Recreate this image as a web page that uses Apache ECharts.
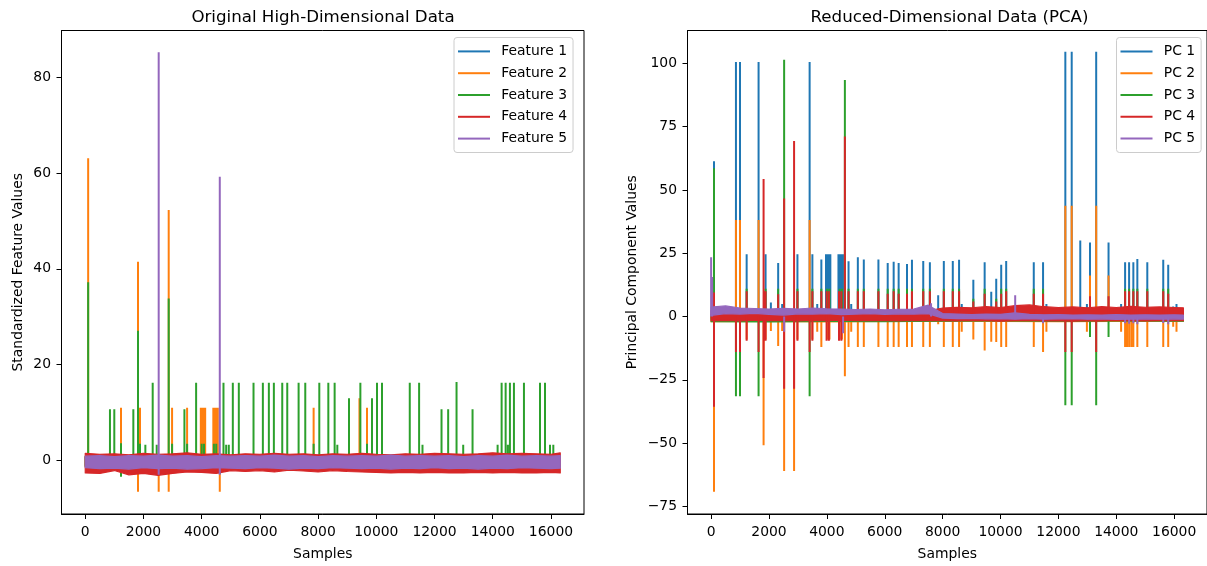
<!DOCTYPE html>
<html><head><meta charset="utf-8">
<script src="https://cdn.jsdelivr.net/npm/echarts@6/dist/echarts.min.js"></script>
<style>html,body{margin:0;padding:0;background:#fff}#chart{width:1207px;height:566px}</style>
</head><body><div id="chart"></div>
<script>
// ---------- tick labels / axes ----------
const xTicks = [0, 2000, 4000, 6000, 8000, 10000, 12000, 14000, 16000];
const leftYTicks = [0, 20, 40, 60, 80];
const rightYTicks = [-75, -50, -25, 0, 25, 50, 75, 100];
const leftNames = ['Feature 1', 'Feature 2', 'Feature 3', 'Feature 4', 'Feature 5'];
const rightNames = ['PC 1', 'PC 2', 'PC 3', 'PC 4', 'PC 5'];

// ---------- noise-band sample positions ----------
const bandX = [0,500,1000,1500,2000,2500,3000,3500,4000,4500,5000,5500,6000,6500,7000,7500,8000,8500,9000,9500,10000,10500,11000,11500,12000,12500,13000,13500,14000,14500,15000,15500,16000,16319];
const coarseX = [0, 2000, 4000, 6000, 8000, 10000, 12000, 14000, 16319];

// ---------- LEFT: original features ----------
const f1BandUp = [0.7, 0.8, 0.7, 0.8, 0.7, 0.8, 0.7, 0.8, 0.7];
const f1BandLo = [-1.0, -1.1, -1.0, -1.1, -1.0, -1.1, -1.0, -1.1, -1.0];
const f2BandUp = [0.8, 0.9, 0.8, 0.9, 0.8, 0.9, 0.8, 0.9, 0.8];
const f2BandLo = [-1.2, -1.3, -1.2, -1.3, -1.2, -1.3, -1.2, -1.3, -1.2];
const f3BandUp = [0.9, 1.0, 0.9, 1.0, 0.9, 1.0, 0.9, 1.0, 0.9];
const f3BandLo = [-1.3, -1.4, -1.3, -1.4, -1.3, -1.4, -1.3, -1.4, -1.3];
const f4BandUp = [1.5, 1.3, 1.4, 1.2, 1.5, 1.3, 1.4, 1.6, 1.3, 1.4, 1.2, 1.4, 1.3, 1.5, 1.3, 1.4, 1.2, 1.4, 1.3, 1.5, 1.3, 1.2, 1.4, 1.3, 1.5, 1.4, 1.3, 1.4, 1.6, 1.4, 1.5, 1.4, 1.3, 1.6];
const f4BandLo = [-2.6, -2.7, -2.1, -3.0, -2.7, -3.1, -2.7, -2.4, -2.5, -2.7, -2.1, -2.3, -2.1, -2.4, -2.0, -2.2, -2.4, -2.1, -2.3, -2.4, -2.5, -2.6, -2.5, -2.6, -2.5, -2.6, -2.6, -2.5, -2.6, -2.5, -2.6, -2.6, -2.5, -2.6];
const f5BandUp = [0.9, 1.0, 0.8, 1.0, 0.9, 1.1, 0.9, 1.0, 0.8, 1.0, 0.9, 1.0, 0.9, 1.1, 0.9, 1.0, 0.8, 1.0, 0.9, 1.0, 0.9, 1.1, 0.9, 1.0, 0.9, 1.0, 0.8, 1.0, 0.9, 1.1, 0.9, 1.0, 0.9, 1.0];
const f5BandLo = [-1.5, -1.7, -1.6, -1.8, -1.5, -1.7, -1.6, -1.8, -1.7, -1.5, -1.6, -1.7, -1.5, -1.6, -1.8, -1.6, -1.7, -1.5, -1.6, -1.7, -1.6, -1.8, -1.6, -1.7, -1.5, -1.7, -1.6, -1.8, -1.6, -1.7, -1.5, -1.6, -1.7, -1.6];

const f1Spikes = [];
const f2Spikes = [[100, 63.1], [1228, 11.0], [1813, 41.5], [1813, -6.5], [1882, 11.0], [2523, -6.5], [2867, 52.3], [2867, -6.5], [2983, 11.0], [3499, 11.0],
  [3970, 11.0], [4010, 11.0], [4050, 11.0], [4090, 11.0], [4120, 11.0],
  [4400, 11.0], [4440, 11.0], [4480, 11.0], [4520, 11.0], [4555, 11.0],
  [4622, -6.5], [7846, 11.0], [9420, 13.0], [9680, 11.0]];
const f3Spikes = [[100, 37.2], [849, 10.7], [998, 10.7], [1228, 3.6], [1228, -3.4], [1652, 10.7], [1813, 27.1], [1813, -2.8], [1882, 3.5], [2065, 3.3], [2317, 16.2], [2455, 3.3], [2523, -2.8], [2867, 33.8], [2867, -2.8], [2983, 3.5], [3407, 10.7], [3499, 3.5], [3809, 16.2],
  [4000, 3.5], [4080, 3.5], [4420, 3.5], [4500, 3.5], [4622, -2.8], [4749, 16.2], [4841, 3.3], [4932, 3.3], [5070, 16.2], [5276, 16.2], [5781, 16.2], [6102, 16.2], [6308, 16.2], [6480, 16.2], [6768, 16.2], [6940, 16.2], [7330, 16.2], [7559, 16.2], [7846, 3.5], [8041, 16.2], [8351, 16.2], [8568, 16.2], [8660, 3.3], [9061, 13.0], [9452, 16.2], [9680, 3.5], [9852, 13.0], [10024, 16.2], [10196, 16.2], [11149, 16.2], [11470, 16.2], [11586, 3.3], [12240, 10.7], [12468, 10.7], [12756, 16.4], [12985, 3.3], [13306, 10.7], [14167, 3.3], [14305, 16.2], [14443, 16.2], [14520, 3.3], [14590, 16.2], [14728, 16.2], [15072, 16.2], [15623, 16.2], [15795, 16.2], [15967, 3.3], [16081, 3.3]];
const f4Spikes = [];
const f5Spikes = [[2523, 85.2], [2523, -3.0], [4622, 59.2], [4622, -3.0]];

// ---------- RIGHT: principal components ----------
const p1BandUp = [1.0, 1.2, 1.1, 1.0, 1.2, 1.1, 1.0, 1.2, 1.1];
const p1BandLo = [-1.0, -1.1, -1.0, -1.1, -1.0, -1.1, -1.0, -1.1, -1.0];
const p2BandUp = [0.8, 0.9, 0.8, 0.9, 0.8, 0.9, 0.8, 0.9, 0.8];
const p2BandLo = [-2.0, -1.9, -2.1, -1.9, -1.8, -1.9, -2.0, -1.9, -1.8];
const p3BandUp = [0.6, 0.5, 0.6, 0.5, 0.6, 0.5, 0.6, 0.5, 0.6];
const p3BandLo = [-2.0, -2.1, -1.9, -2.0, -1.8, -1.7, -1.8, -1.7, -1.8];
const p4BandUp = [2.5, 2.2, 2.0, 2.3, 2.0, 2.4, 2.1, 2.2, 2.0, 2.3, 2.1, 2.2, 2.0, 2.2, 2.1, 2.3, 3.4, 3.7, 3.5, 3.9, 3.6, 4.3, 4.6, 3.9, 3.6, 3.8, 3.5, 3.9, 3.6, 4.0, 3.7, 3.8, 3.6, 3.5];
const p4BandLo = [-1.6, -1.5, -1.7, -1.4, -1.6, -1.5, -1.7, -1.5, -1.6, -1.4, -1.6, -1.5, -1.6, -1.7, -1.5, -1.6, -1.6, -1.7, -1.5, -1.6, -1.8, -1.6, -1.5, -1.7, -1.6, -1.8, -1.6, -1.7, -1.5, -1.6, -1.7, -1.6, -1.5, -1.6];
const p5BandUp = [3.8, 4.2, 3.4, 3.2, 3.0, 3.3, 3.0, 3.4, 3.1, 3.0, 2.8, 3.0, 2.7, 2.9, 3.0, 4.5, 1.2, 1.0, 0.8, 1.0, 0.9, 1.5, 0.9, 0.7, 0.8, 0.6, 0.7, 0.6, 0.8, 0.6, 0.7, 0.6, 0.7, 0.6];
const p5BandLo = [0.5, 1.2, 1.0, 1.3, 0.9, 0.6, 1.1, 1.0, 1.2, 0.8, 1.0, 1.2, 0.9, 1.1, 1.0, 1.2, -0.6, -0.8, -0.7, -0.9, -0.8, -1.0, -0.8, -1.0, -0.9, -0.8, -1.0, -0.9, -1.1, -1.0, -0.9, -1.0, -0.9, -1.0];

const p1Spikes = [[100, 61.4], [858, 100.6], [999, 100.6], [1228, 24.6], [1640, 100.6], [1882, 24.6], [2065, 5.6], [2317, 21.2], [2455, 5.0], [2983, 24.6], [3404, 100.6], [3499, 24.6], [3667, 5.0], [3809, 22.6],
  [3970, 24.6], [4010, 24.6], [4050, 24.6], [4090, 24.6], [4120, 24.6],
  [4400, 24.6], [4440, 24.6], [4480, 24.6], [4520, 24.6], [4555, 24.6],
  [4749, 21.9], [4841, 5.0], [5070, 23.4], [5276, 22.6], [5781, 22.6], [6102, 21.2], [6308, 21.7], [6480, 21.2], [6768, 20.8], [6940, 22.5], [7330, 22.0], [7559, 21.5], [7846, 8.4], [8041, 22.0], [8351, 22.0], [8568, 22.5], [8660, 5.0], [9061, 14.6], [9452, 21.5], [9680, 9.8], [9852, 14.9], [10024, 20.5], [10196, 22.0], [11149, 21.5], [11470, 21.5], [11586, 5.0], [12240, 104.6], [12460, 104.6], [12756, 30.1], [12985, 5.0], [13093, 29.3], [13306, 104.6], [13733, 29.3], [14167, 5.0], [14305, 21.5], [14443, 21.5], [14590, 21.5], [14728, 22.7], [15072, 21.5], [15623, 22.5], [15795, 20.5], [15967, 4.0], [16081, 5.0]];
const p2Spikes = [[100, -69.2], [858, 38.2], [999, 38.2], [1228, -9.0], [1640, 38.2], [1813, -50.8], [1882, -9.0], [2065, -5.7], [2317, -11.6], [2455, -5.7], [2523, -61.0], [2867, -61.0], [2983, -9.0], [3404, 38.2], [3499, -9.0], [3667, -6.0], [3809, -12.0],
  [4010, -9.0], [4090, -9.0], [4440, -9.0], [4520, -9.0],
  [4622, -23.6], [4749, -12.0], [4841, -6.0], [5070, -12.0], [5276, -12.0], [5781, -12.0], [6102, -12.0], [6308, -12.0], [6480, -12.0], [6768, -12.0], [6940, -12.0], [7330, -12.0], [7559, -12.0], [7846, -3.0], [8041, -12.0], [8351, -12.0], [8568, -12.0], [8660, -6.0], [9061, -9.0], [9452, -13.4], [9680, -9.9], [9852, -10.0], [10024, -12.0], [10196, -12.0], [11149, -12.0], [11470, -14.0], [11586, -6.0], [12240, 43.8], [12460, 43.8], [12985, -6.0], [13093, 16.2], [13306, 43.8], [13733, 16.2], [14167, -6.0], [14305, -12.0], [14370, -12.0], [14443, -12.0], [14520, -12.0], [14590, -12.0], [14728, -12.0], [15072, -12.0], [15623, -12.0], [15795, -12.0], [15967, -4.0], [16081, -6.0]];
const p3Spikes = [[100, 58.6], [858, -31.5], [999, -31.5], [1228, 11.0], [1640, -31.5], [1882, 11.0], [2317, 11.0], [2523, 101.4], [2983, 11.0], [3404, -31.5], [3499, 11.0], [3809, 11.0],
  [4010, 11.0], [4090, 11.0], [4440, 11.0], [4520, 11.0],
  [4622, 93.4], [4749, 11.0], [5070, 11.0], [5276, 11.0], [5781, 11.0], [6102, 11.0], [6308, 11.0], [6480, 11.0], [6768, 11.0], [6940, 11.0], [7330, 11.0], [7559, 11.0], [8041, 11.0], [8351, 11.0], [8568, 11.0], [9061, 7.0], [9452, 11.0], [9852, 7.0], [10024, 11.0], [10196, 11.0], [11149, 11.0], [11470, 11.0], [12240, -35.0], [12460, -35.0], [13093, -8.1], [13306, -35.0], [13733, -8.1], [14305, 11.0], [14443, 11.0], [14590, 11.0], [14728, 11.0], [15072, 11.0], [15623, 11.0], [15795, 11.0]];
const p4Spikes = [[100, 9.5], [100, -35.6], [858, -14.0], [999, -14.0], [1228, 10.0], [1228, -9.5], [1640, -14.0], [1813, 54.3], [1813, -24.3], [1882, 10.0], [1882, -9.5], [2317, 8.8], [2523, 46.6], [2523, -28.5], [2867, 69.4], [2867, -28.5], [2983, 10.0], [2983, -9.5], [3404, -14.0], [3499, 10.0], [3499, -9.5], [3809, 10.0],
  [3990, 10.0], [3990, -9.5], [4070, 10.0], [4070, -9.5], [4420, 10.0], [4420, -9.5], [4500, 10.0], [4500, -9.5],
  [4622, 71.1], [4749, 10.0], [5070, 10.0], [5276, 10.0], [5781, 10.0], [6102, 9.0], [6308, 10.0], [6480, 9.0], [6768, 9.0], [6940, 10.0], [7330, 10.0], [7559, 10.0], [8041, 10.0], [8351, 10.0], [8568, 10.0], [9061, 6.0], [9452, 9.0], [9852, 6.0], [10024, 9.0], [10196, 10.0], [11149, 9.0], [11470, 9.0], [12240, -14.0], [12460, -14.0], [13093, 8.0], [13306, -14.0], [13733, 8.0], [14305, 10.0], [14443, 10.0], [14590, 10.0], [14728, 10.0], [15072, 10.0], [15623, 10.0], [15795, 9.0]];
const p5Spikes = [[0, 23.4], [35, 15.6], [2523, -6.0], [4560, -6.6], [7600, 5.3], [10507, 8.4], [11470, -2.6], [14305, -2.6], [14443, -2.8], [14590, -2.6], [14728, -3.0], [15623, -2.5], [15795, -3.0]];

// ---------- build ----------
const COLORS = ['#1f77b4', '#ff7f0e', '#2ca02c', '#d62728', '#9467bd'];
const FONT = 'DejaVu Sans';

function band(name, gi, k, xs, up, lo) {
  const rows = xs.map((x, i) => [x, up[i], lo[i]]);
  return {
    name: name, type: 'custom', xAxisIndex: gi, yAxisIndex: gi, z: 10 + 2 * k,
    silent: true, animation: false, data: rows, encode: { x: 0, y: [1, 2] },
    renderItem: function (params, api) {
      if (params.dataIndex !== 0) return null;
      const pts = rows.map(r => api.coord([r[0], r[1]]));
      for (let i = rows.length - 1; i >= 0; i--) pts.push(api.coord([rows[i][0], rows[i][2]]));
      return { type: 'polygon', shape: { points: pts }, style: { fill: COLORS[k], stroke: COLORS[k], lineWidth: 1.2, lineJoin: 'round' } };
    }
  };
}
function spikes(name, gi, k, list) {
  const d = [];
  list.forEach(p => { d.push([p[0], 0], [p[0], p[1]], [p[0], null]); });
  return {
    name: name, type: 'line', xAxisIndex: gi, yAxisIndex: gi, z: 11 + 2 * k,
    data: d, symbol: 'none', showSymbol: false, silent: true, animation: false, connectNulls: false,
    lineStyle: { color: COLORS[k], width: 2 }, itemStyle: { color: COLORS[k] }
  };
}
const minus = v => String(v).replace('-', '\u2212');
const labelStyle = { color: '#000', fontFamily: FONT, fontSize: 13.9 };

function xAxis(gi) {
  return {
    type: 'value', gridIndex: gi, min: -816, max: 17135, position: 'bottom',
    name: 'Samples', nameLocation: 'middle', nameGap: 33, nameTextStyle: labelStyle,
    axisLine: { show: true, onZero: false, lineStyle: { color: '#000', width: 1 } },
    axisTick: { show: true, inside: false, customValues: xTicks, length: 5, lineStyle: { color: '#000', width: 1 } },
    axisLabel: Object.assign({ customValues: xTicks, margin: 11, formatter: minus }, labelStyle),
    splitLine: { show: false }
  };
}
function yAxis(gi, name, min, max, ticks, gap) {
  return {
    type: 'value', gridIndex: gi, min: min, max: max, position: 'left',
    name: name, nameLocation: 'middle', nameRotate: 90, nameGap: gap, nameTextStyle: labelStyle,
    axisLine: { show: true, onZero: false, lineStyle: { color: '#000', width: 1 } },
    axisTick: { show: true, inside: false, customValues: ticks, length: 5, lineStyle: { color: '#000', width: 1 } },
    axisLabel: Object.assign({ customValues: ticks, margin: 10.5, formatter: minus }, labelStyle),
    splitLine: { show: false }
  };
}
function legend(names, left) {
  return {
    orient: 'vertical', left: left, top: 37.5, itemGap: 0, itemWidth: 32, itemHeight: 2,
    padding: [3, 6, 3, 4],
    backgroundColor: 'rgba(255,255,255,0.8)', borderColor: '#cccccc', borderWidth: 1, borderRadius: 3,
    textStyle: { color: '#000', fontFamily: FONT, fontSize: 13.9, lineHeight: 21.8, padding: [0, 0, 0, 6.3] },
    data: names.map((n, k) => ({ name: n, icon: 'rect', itemStyle: { color: COLORS[k] } })),
    selectedMode: false
  };
}

const leftSpikes = [f1Spikes, f2Spikes, f3Spikes, f4Spikes, f5Spikes];
const leftBands = [[coarseX, f1BandUp, f1BandLo], [coarseX, f2BandUp, f2BandLo], [coarseX, f3BandUp, f3BandLo], [bandX, f4BandUp, f4BandLo], [bandX, f5BandUp, f5BandLo]];
const rightSpikes = [p1Spikes, p2Spikes, p3Spikes, p4Spikes, p5Spikes];
const rightBands = [[coarseX, p1BandUp, p1BandLo], [coarseX, p2BandUp, p2BandLo], [coarseX, p3BandUp, p3BandLo], [bandX, p4BandUp, p4BandLo], [bandX, p5BandUp, p5BandLo]];

const series = [];
for (let k = 0; k < 5; k++) {
  series.push(band(leftNames[k], 0, k, leftBands[k][0], leftBands[k][1], leftBands[k][2]));
  series.push(spikes(leftNames[k], 0, k, leftSpikes[k]));
}
for (let k = 0; k < 5; k++) {
  series.push(band(rightNames[k], 1, k, rightBands[k][0], rightBands[k][1], rightBands[k][2]));
  series.push(spikes(rightNames[k], 1, k, rightSpikes[k]));
}

const chart = echarts.init(document.getElementById('chart'), null, { renderer: 'canvas' });
chart.setOption({
  animation: false,
  backgroundColor: '#fff',
  title: [
    { text: 'Original High-Dimensional Data', left: 323, top: 9, padding: 0, textAlign: 'center', textStyle: { color: '#000', fontFamily: FONT, fontSize: 16.67, fontWeight: 'normal' } },
    { text: 'Reduced-Dimensional Data (PCA)', left: 949.5, top: 9, padding: 0, textAlign: 'center', textStyle: { color: '#000', fontFamily: FONT, fontSize: 16.67, fontWeight: 'normal' } }
  ],
  grid: [
    { left: 61.5, top: 30.5, width: 522.5, height: 488.5, show: true, borderColor: '#000', borderWidth: 1, backgroundColor: 'transparent', containLabel: false },
    { left: 687.5, top: 30.5, width: 523, height: 488.5, show: true, borderColor: '#000', borderWidth: 1, backgroundColor: 'transparent', containLabel: false }
  ],
  xAxis: [xAxis(0), xAxis(1)],
  yAxis: [
    yAxis(0, 'Standardized Feature Values', -11.17, 89.75, leftYTicks, 36),
    yAxis(1, 'Principal Component Values', -77.97, 113.0, rightYTicks, 48)
  ],
  legend: [legend(leftNames, 454), legend(rightNames, 1116.5)],
  series: series
});
</script></body></html>
